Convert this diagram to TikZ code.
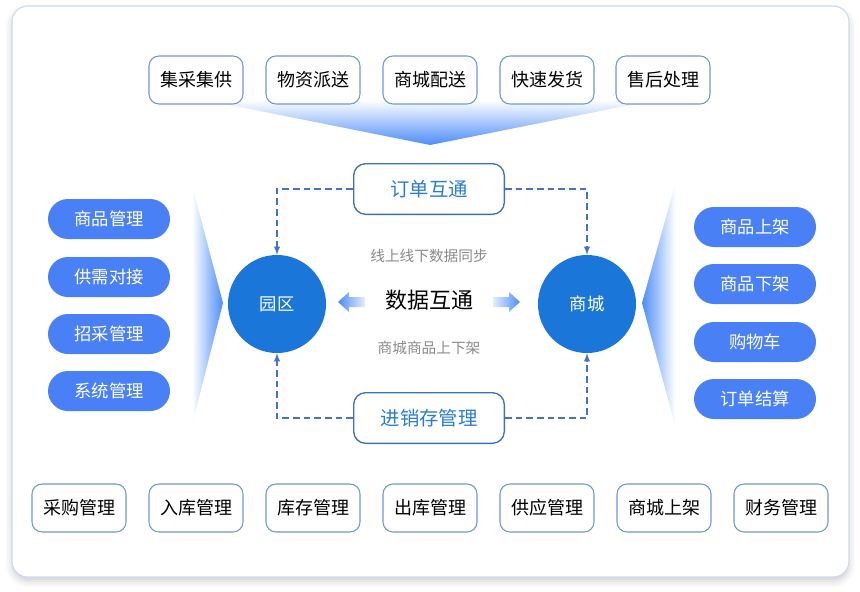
\documentclass[tikz,border=0pt]{standalone}
\usepackage{fontspec}
\setmainfont{Noto Sans CJK SC}
\usepackage{tikz}
\usetikzlibrary{shadows.blur}

\definecolor{cardline}{HTML}{CCDAF0}
\definecolor{boxline}{HTML}{7096DC}
\definecolor{pillblue}{HTML}{4A80F5}
\definecolor{circblue}{HTML}{1A76D8}
\definecolor{dashblue}{HTML}{4472C4}
\definecolor{midline}{HTML}{3D6FC4}
\definecolor{midtext}{HTML}{2A7BD4}
\definecolor{softgray}{HTML}{8A8A8A}
\definecolor{funnelblue}{HTML}{4D8DF8}

\begin{document}
\begin{tikzpicture}[x=0.75pt,y=-0.75pt,
  topbox/.style={draw=boxline,line width=0.8pt,fill=white,rounded corners=7.5pt,
    minimum width=70.5pt,minimum height=36pt,inner sep=0pt,
    font=\fontsize{13.5}{16}\selectfont},
  pill/.style={fill=pillblue,rounded corners=15pt,minimum width=91.5pt,
    minimum height=30pt,inner sep=0pt,text=white,font=\fontsize{13}{15}\selectfont},
  hub/.style={circle,fill=circblue,minimum size=73.5pt,inner sep=0pt,text=white,
    font=\fontsize{13}{15}\selectfont},
  midbox/.style={draw=midline,line width=1pt,fill=white,rounded corners=9pt,
    minimum width=113pt,minimum height=38pt,inner sep=0pt,text=midtext,
    font=\fontsize{14.5}{17}\selectfont},
  note/.style={text=softgray,font=\fontsize{11}{13}\selectfont},
  dline/.style={draw=dashblue,line width=1.1pt,dash pattern=on 5pt off 3pt,-latex}]

\useasboundingbox (0,0) rectangle (860,592);

% card
\draw[draw=cardline,line width=0.8pt,fill=white,rounded corners=12pt,
  blur shadow={shadow xshift=0pt,shadow yshift=-3pt,shadow blur radius=5pt,shadow opacity=20}]
  (12,6) rectangle (849,577);

% funnels
\shade[top color=white,bottom color=funnelblue] (205,100) -- (655,100) -- (430,145) -- cycle;
\shade[left color=white,right color=funnelblue] (192,185) -- (223,303) -- (192,425) -- cycle;
\shade[left color=funnelblue,right color=white] (642,303) -- (675,185) -- (675,425) -- cycle;

% top row
\node[topbox] (t1) at (196,80) {集采集供};
\node[topbox] (t2) at (313,80) {物资派送};
\node[topbox] (t3) at (430,80) {商城配送};
\node[topbox] (t4) at (547,80) {快速发货};
\node[topbox] (t5) at (663,80) {售后处理};

% left pills
\node[pill] (l1) at (109,219) {商品管理};
\node[pill] (l2) at (109,277) {供需对接};
\node[pill] (l3) at (109,334) {招采管理};
\node[pill] (l4) at (109,391) {系统管理};

% right pills
\node[pill] (r1) at (755,227) {商品上架};
\node[pill] (r2) at (755,284) {商品下架};
\node[pill] (r3) at (755,342) {购物车};
\node[pill] (r4) at (755,399) {订单结算};

% hubs
\node[hub] (yuanqu) at (277,304) {园区};
\node[hub] (shangcheng) at (587,304) {商城};

\node[midbox] (dingdan) at (429,189) {订单互通};
\node[midbox] (jxc) at (429,418) {进销存管理};

\draw[dline] (dingdan.west) -| (yuanqu.north);
\draw[dline] (dingdan.east) -| (shangcheng.north);
\draw[dline] (jxc.west) -| (yuanqu.south);
\draw[dline] (jxc.east) -| (shangcheng.south);

\node[note] (sync) at (429,256) {线上线下数据同步};
\node[font=\fontsize{16.5}{19}\selectfont] (shuju) at (429,300) {数据互通};
\node[note] (shelf) at (429,348) {商城商品上下架};

% fat arrows
\shade[left color=funnelblue,right color=funnelblue!15]
  (338,302) -- (349,292) -- (349,297) -- (365,297) -- (365,307) -- (349,307) -- (349,312) -- cycle;
\shade[left color=funnelblue!15,right color=funnelblue]
  (520,302) -- (509,292) -- (509,297) -- (493,297) -- (493,307) -- (509,307) -- (509,312) -- cycle;

% bottom row
\node[topbox] (b1) at (79,508) {采购管理};
\node[topbox] (b2) at (196,508) {入库管理};
\node[topbox] (b3) at (313,508) {库存管理};
\node[topbox] (b4) at (430,508) {出库管理};
\node[topbox] (b5) at (547,508) {供应管理};
\node[topbox] (b6) at (664,508) {商城上架};
\node[topbox] (b7) at (781,508) {财务管理};
\end{tikzpicture}
\end{document}
